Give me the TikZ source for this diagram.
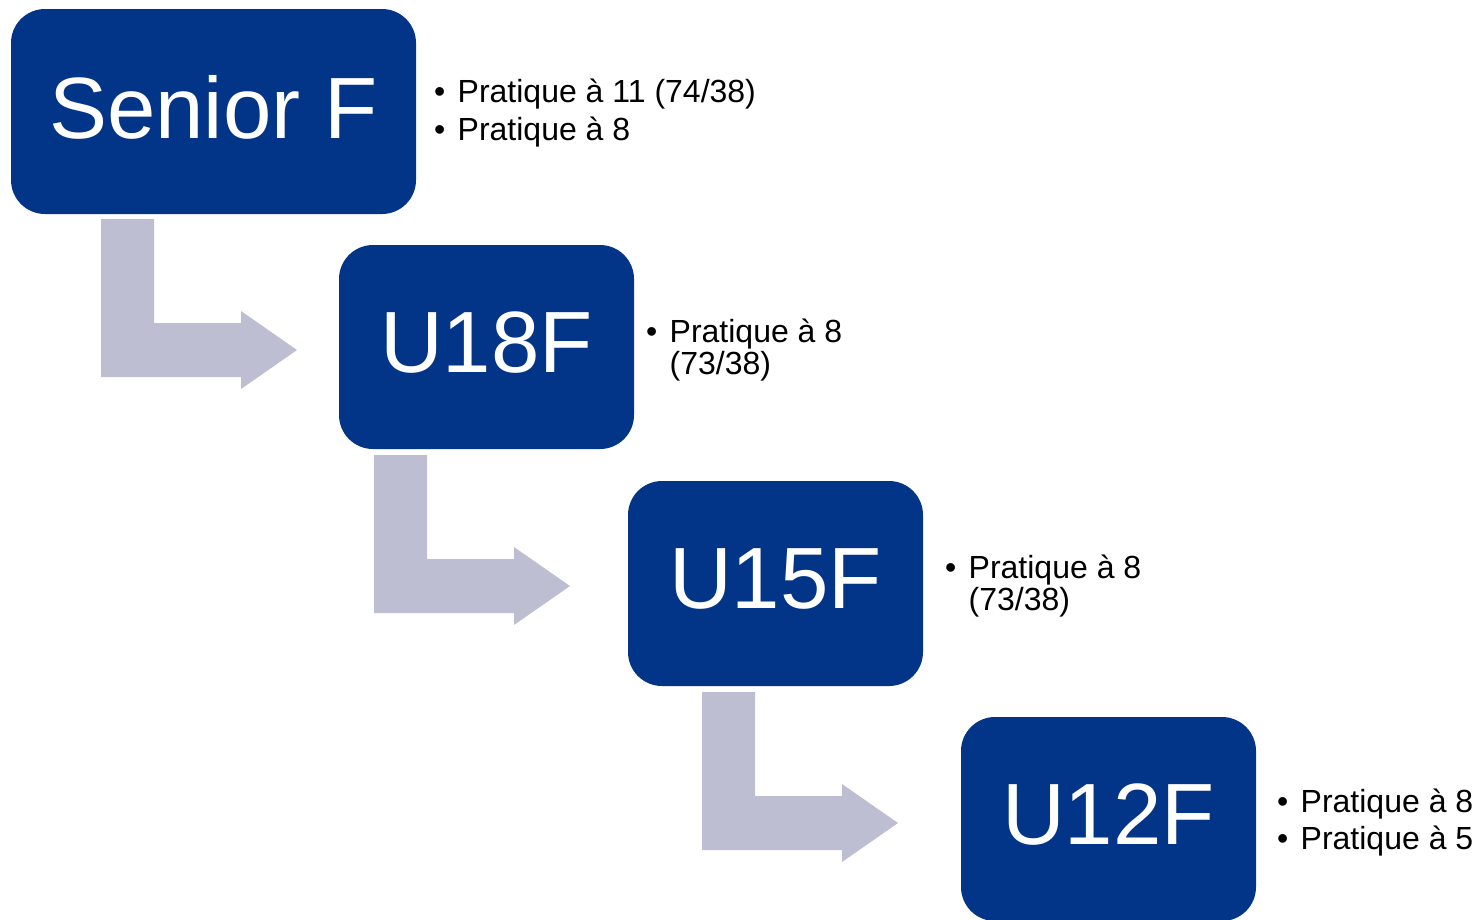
\documentclass[tikz,border=0pt]{standalone}
\usepackage{fontspec}
\setmainfont{Liberation Sans}
\definecolor{boxblue}{RGB}{2,52,136}
\definecolor{arrowgray}{RGB}{189,190,209}
\tikzset{
  agebox/.style={fill=boxblue, draw=none, rounded corners=34pt, text=white,
    inner sep=0pt, text depth=9pt, font=\fontsize{87}{96}\selectfont},
  bullettext/.style={anchor=base west, inner sep=0pt, align=left,
    font=\fontsize{32}{32}\selectfont},
  bentarrow/.style={fill=arrowgray, draw=none}
}
\newcommand{\bul}{\llap{\textbullet\hspace{12.5pt}}}
\newcommand{\bentshape}{(0,0) -- (53,0) -- (53,104) -- (140,104) -- (140,92) -- (196,131) -- (140,170) -- (140,158) -- (0,158) -- cycle}
\begin{document}
\begin{tikzpicture}[x=1pt,y=-1pt]
\useasboundingbox (0,0) rectangle (1480,919);
\clip (0,0) rectangle (1480,919);
% boxes
\node[agebox, minimum width=405pt, minimum height=205pt] (sen) at (213.5,111.5) {Senior F};
\node[agebox, minimum width=295pt, minimum height=204pt] (u18) at (486.5,347) {U18F};
\node[agebox, minimum width=295pt, minimum height=205pt] (u15) at (775.5,583.5) {U15F};
\node[agebox, minimum width=295pt, minimum height=204pt] (u12) at (1108.5,819) {U12F};
% bent arrows
\fill[bentarrow, shift={(101,219)}] \bentshape;
\fill[bentarrow, shift={(374,455)}] \bentshape;
\fill[bentarrow, shift={(702,692)}] \bentshape;
% texts
\node[bullettext] (tsen1) at (457.5,102) {\bul Pratique à 11 (74/38)};
\node[bullettext] (tsen2) at (457.5,140) {\bul Pratique à 8};
\node[bullettext] (tu18) at (669.5,374) {\bul Pratique à 8\\(73/38)};
\node[bullettext] (tu15) at (968.5,610) {\bul Pratique à 8\\(73/38)};
\node[bullettext] (tu121) at (1300.5,812) {\bul Pratique à 8};
\node[bullettext] (tu122) at (1300.5,849) {\bul Pratique à 5};
\end{tikzpicture}
\end{document}
